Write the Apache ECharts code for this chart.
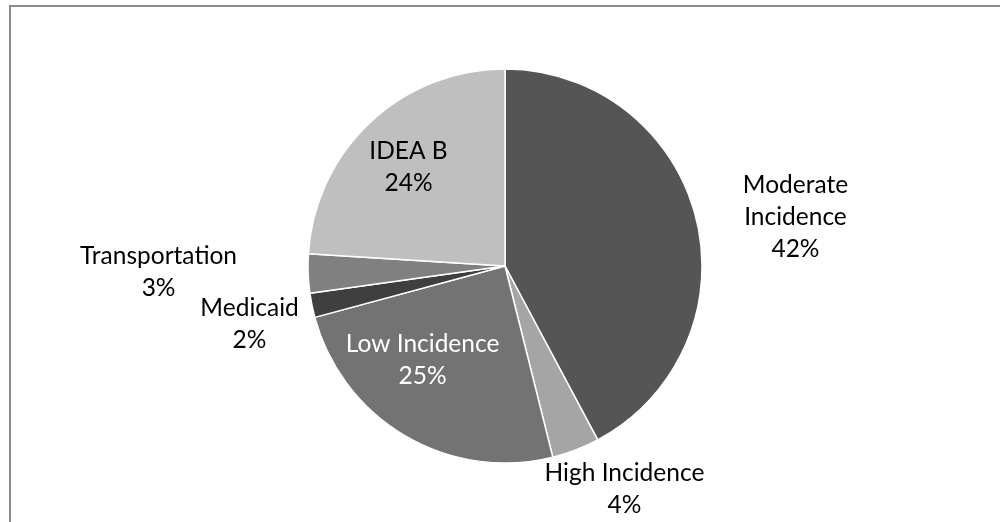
<!DOCTYPE html>
<html>
<head>
<meta charset="utf-8">
<script src="https://cdn.jsdelivr.net/npm/echarts@6/dist/echarts.min.js"></script>
<style>
html,body{margin:0;padding:0;background:#fff;}
#chart{width:1000px;height:522px;}
</style>
</head>
<body>
<div id="chart"></div>
<script>
// Data
const categories = ['Moderate Incidence', 'High Incidence', 'Low Incidence', 'Medicaid', 'Transportation', 'IDEA B'];
const values = [42.2, 3.9, 24.7, 2.0, 3.2, 24.0];
const labelNames = ['Moderate\nIncidence', 'High Incidence', 'Low Incidence', 'Medicaid', 'Transportation', 'IDEA B'];

// Styles (kept separate from data)
const sliceColors = ['#555555', '#a5a5a5', '#737373', '#3f3f3f', '#808080', '#bfbfbf'];
const labelColors = ['#000', '#000', '#fff', '#000', '#000', '#000'];
const labelOffsets = [[192, -24], [83, 128], [-31, 7], [-156, 38], [-245, 2], [-27, -25]];

const chart = echarts.init(document.getElementById('chart'), null, {renderer: 'canvas'});

const data = categories.map((c, i) => ({
  name: c,
  value: values[i],
  itemStyle: { color: sliceColors[i] },
  label: { color: labelColors[i], offset: labelOffsets[i] }
}));

chart.setOption({
  animation: false,
  backgroundColor: '#fff',
  graphic: [{
    type: 'rect',
    shape: { x: 10, y: 6, width: 1000, height: 530 },
    style: { fill: 'none', stroke: '#8c8c8c', lineWidth: 2 },
    silent: true
  }],
  series: [{
    type: 'pie',
    center: [505, 266],
    radius: 197,
    startAngle: 90,
    clockwise: true,
    avoidLabelOverlap: false,
    minShowLabelAngle: 0,
    itemStyle: { borderColor: '#fff', borderWidth: 1.5 },
    label: {
      show: true,
      position: 'inside',
      fontFamily: 'Lato',
      fontSize: 24.5,
      lineHeight: 32,
      align: 'center',
      formatter: function (p) {
        return labelNames[p.dataIndex] + '\n' + Math.round(p.percent) + '%';
      }
    },
    labelLayout: function () {
      return { hideOverlap: false, moveOverlap: null };
    },
    labelLine: { show: false },
    emphasis: { disabled: true },
    data: data
  }]
});
</script>
</body>
</html>
